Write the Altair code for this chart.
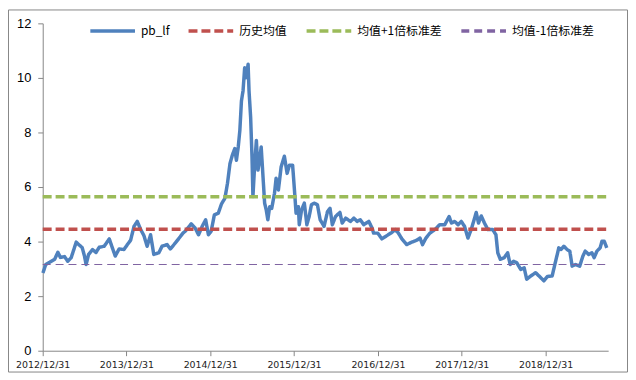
import altair as alt
import pandas as pd

dates = [
    "2013-01-01", "2013-01-13", "2013-01-30", "2013-02-21", "2013-03-07", "2013-03-18",
    "2013-04-05", "2013-04-19", "2013-05-04", "2013-05-11", "2013-05-26", "2013-06-06",
    "2013-06-21", "2013-07-01", "2013-07-08", "2013-07-19", "2013-08-05", "2013-08-20",
    "2013-09-03", "2013-09-25", "2013-10-17", "2013-10-28", "2013-11-12", "2013-11-29",
    "2013-12-20", "2014-01-04", "2014-01-18", "2014-02-02", "2014-02-16", "2014-03-03",
    "2014-03-17", "2014-03-31", "2014-04-15", "2014-04-29", "2014-05-21", "2014-06-04",
    "2014-06-26", "2014-07-10", "2014-08-01", "2014-08-15", "2014-09-03", "2014-09-13",
    "2014-10-09", "2014-10-26", "2014-11-10", "2014-11-27", "2014-12-11", "2014-12-23",
    "2015-01-04", "2015-01-18", "2015-02-04", "2015-02-18", "2015-03-05", "2015-03-16",
    "2015-03-27", "2015-04-06", "2015-04-17", "2015-04-24", "2015-05-02", "2015-05-09",
    "2015-05-16", "2015-05-23", "2015-05-30", "2015-06-06", "2015-06-14", "2015-06-18",
    "2015-06-25", "2015-07-01", "2015-07-05", "2015-07-13", "2015-07-20", "2015-07-27",
    "2015-08-03", "2015-08-10", "2015-08-18", "2015-08-25", "2015-09-01", "2015-09-08",
    "2015-09-16", "2015-09-25", "2015-10-07", "2015-10-14", "2015-10-24", "2015-11-05",
    "2015-11-19", "2015-12-01", "2015-12-11", "2015-12-25", "2016-01-02", "2016-01-09",
    "2016-01-19", "2016-01-23", "2016-02-02", "2016-02-14", "2016-02-25", "2016-03-06",
    "2016-03-16", "2016-03-28", "2016-04-11", "2016-04-23", "2016-05-10", "2016-05-25",
    "2016-06-05", "2016-06-15", "2016-06-29", "2016-07-18", "2016-07-28", "2016-08-12",
    "2016-09-02", "2016-09-17", "2016-10-01", "2016-10-15", "2016-10-30", "2016-11-21",
    "2016-12-05", "2016-12-12", "2016-12-30", "2017-01-17", "2017-02-08", "2017-03-02",
    "2017-03-16", "2017-03-30", "2017-04-14", "2017-05-05", "2017-05-27", "2017-06-18",
    "2017-07-02", "2017-07-13", "2017-07-28", "2017-08-14", "2017-09-05", "2017-09-26",
    "2017-10-18", "2017-11-06", "2017-11-16", "2017-11-30", "2017-12-15", "2017-12-29",
    "2018-01-12", "2018-01-27", "2018-02-10", "2018-02-25", "2018-03-04", "2018-03-14",
    "2018-03-26", "2018-04-09", "2018-04-24", "2018-05-15", "2018-05-29", "2018-06-06",
    "2018-06-17", "2018-07-04", "2018-07-19", "2018-07-30", "2018-08-14", "2018-08-28",
    "2018-09-14", "2018-09-29", "2018-10-10", "2018-10-28", "2018-11-18", "2018-12-10",
    "2018-12-24", "2019-01-08", "2019-01-29", "2019-02-13", "2019-02-27", "2019-03-09",
    "2019-03-21", "2019-04-04", "2019-04-16", "2019-04-26", "2019-05-10", "2019-05-29",
    "2019-06-12", "2019-06-22", "2019-07-07", "2019-07-21", "2019-07-31", "2019-08-12",
    "2019-08-26", "2019-09-03", "2019-09-13", "2019-09-24",
]

pb_lf = [
    2.85, 3.16, 3.24, 3.35, 3.61, 3.42,
    3.45, 3.28, 3.41, 3.59, 3.98, 3.89,
    3.78, 3.47, 3.16, 3.53, 3.71, 3.60,
    3.79, 3.83, 4.10, 3.83, 3.47, 3.73,
    3.71, 3.89, 4.05, 4.56, 4.74, 4.44,
    4.22, 3.83, 4.25, 3.53, 3.59, 3.83,
    3.89, 3.73, 3.95, 4.10, 4.31, 4.38,
    4.65, 4.50, 4.25, 4.58, 4.80, 4.25,
    4.38, 4.98, 5.04, 5.38, 5.59, 6.13,
    6.86, 7.16, 7.41, 6.98, 7.47, 8.07,
    9.16, 9.53, 10.37, 10.01, 10.50, 9.53,
    8.56, 7.10, 5.65, 6.86, 7.71, 6.62,
    6.98, 7.47, 6.37, 5.41, 5.16, 4.80,
    5.28, 5.22, 5.77, 6.32, 5.89, 6.74,
    7.13, 6.50, 6.80, 6.80, 5.89, 5.04,
    5.28, 4.62, 5.16, 5.41, 4.62, 4.92,
    5.35, 5.41, 5.35, 4.80, 4.56, 5.10,
    5.22, 4.62, 4.92, 5.07, 4.68, 4.86,
    4.74, 4.86, 4.74, 4.80, 4.62, 4.74,
    4.50, 4.31, 4.31, 4.10, 4.22, 4.34,
    4.44, 4.31, 4.10, 3.89, 3.98, 4.05,
    4.13, 3.89, 4.13, 4.31, 4.44, 4.62,
    4.62, 4.92, 4.68, 4.74, 4.62, 4.74,
    4.56, 4.13, 4.44, 4.86, 5.07, 4.68,
    4.94, 4.68, 4.44, 4.44, 4.25, 3.59,
    3.35, 3.41, 3.59, 3.16, 3.28, 3.22,
    2.98, 3.04, 2.62, 2.74, 2.86, 2.68,
    2.56, 2.72, 2.74, 3.28, 3.77, 3.71,
    3.83, 3.71, 3.65, 3.10, 3.16, 3.10,
    3.47, 3.65, 3.53, 3.59, 3.41, 3.65,
    3.77, 4.01, 4.01, 3.77,
]

series_names = ["pb_lf", "历史均值", "均值+1倍标准差", "均值-1倍标准差"]
series_colors = ["#4F81BD", "#C0504D", "#9BBB59", "#8064A2"]
level_values = [4.45, 5.64, 3.16]
level_span = ["2012-12-31", "2019-09-30"]
tick_dates = ["2012-12-31", "2013-12-31", "2014-12-31", "2015-12-31",
              "2016-12-31", "2017-12-31", "2018-12-31"]

rows = [{"date": d, "value": v, "series": "pb_lf"} for d, v in zip(dates, pb_lf)]
for name, lv in zip(series_names[1:], level_values):
    for d in level_span:
        rows.append({"date": d, "value": lv, "series": name})
df = pd.DataFrame(rows)
df["date"] = pd.to_datetime(df["date"])


def dt(s):
    y, m, d = (int(p) for p in s.split("-"))
    return alt.DateTime(year=y, month=m, date=d)


x_enc = alt.X(
    "date:T",
    scale=alt.Scale(domain=[dt(level_span[0]), dt(level_span[1])], nice=False),
    axis=alt.Axis(
        title=None,
        values=[dt(s) for s in tick_dates],
        format="%Y/%m/%d",
        labelFontSize=9.5,
        labelFont="DejaVu Sans",
        labelColor="#222222",
        labelFlush=False,
        labelAlign="center",
        labelPadding=4,
        tickSize=5,
        tickColor="#868686",
        domainColor="#868686",
        grid=False,
    ),
)
y_enc = alt.Y(
    "value:Q",
    scale=alt.Scale(domain=[0, 12], nice=False),
    axis=alt.Axis(
        title=None,
        values=[0, 2, 4, 6, 8, 10, 12],
        labelFontSize=13,
        labelFont="Liberation Sans",
        labelColor="#000000",
        labelPadding=7,
        tickSize=5,
        tickColor="#868686",
        domainColor="#868686",
        grid=False,
    ),
)
color_enc = alt.Color(
    "series:N",
    scale=alt.Scale(domain=series_names, range=series_colors),
    legend=alt.Legend(
        title=None,
        orient="none",
        legendX=46,
        legendY=-17,
        direction="horizontal",
        columns=4,
        symbolType="stroke",
        symbolSize=2025,
        symbolStrokeWidth=3.5,
        labelFont="Noto Sans CJK SC",
        labelFontSize=12,
        labelColor="#000000",
        labelOffset=4,
        columnPadding=12,
        padding=0,
    ),
)
dash_enc = alt.StrokeDash(
    "series:N",
    scale=alt.Scale(domain=series_names,
                    range=[[1, 0], [9, 4], [9, 4], [8, 5]]),
)

base = alt.Chart(df)
main_line = base.transform_filter(alt.datum.series == "pb_lf").mark_line(
    strokeJoin="round", strokeWidth=3.5).encode(
    x=x_enc, y=y_enc, color=color_enc, strokeDash=dash_enc)
thick_levels = base.transform_filter(
    (alt.datum.series == "历史均值") | (alt.datum.series == "均值+1倍标准差")
).mark_line(strokeWidth=3.5).encode(
    x=x_enc, y=y_enc, color=color_enc, strokeDash=dash_enc)
thin_level = base.transform_filter(alt.datum.series == "均值-1倍标准差").mark_line(
    strokeWidth=1.2).encode(
    x=x_enc, y=y_enc, color=color_enc, strokeDash=dash_enc)

frame = alt.Chart(pd.DataFrame({"a": [0]})).mark_rect(
    fill="transparent", stroke="#868686", strokeWidth=1).encode(
    x=alt.value(-34.5), x2=alt.value(589.5), y=alt.value(-13.5), y2=alt.value(351.5))

chart = alt.layer(frame, main_line, thick_levels, thin_level).properties(
    width=570,
    height=330,
    padding={"left": 35, "top": 14, "right": 20, "bottom": 22},
    autosize=alt.AutoSizeParams(type="none"),
).configure_view(strokeOpacity=0)

chart.save("out.html", embed_options={"renderer": "svg", "actions": False})
